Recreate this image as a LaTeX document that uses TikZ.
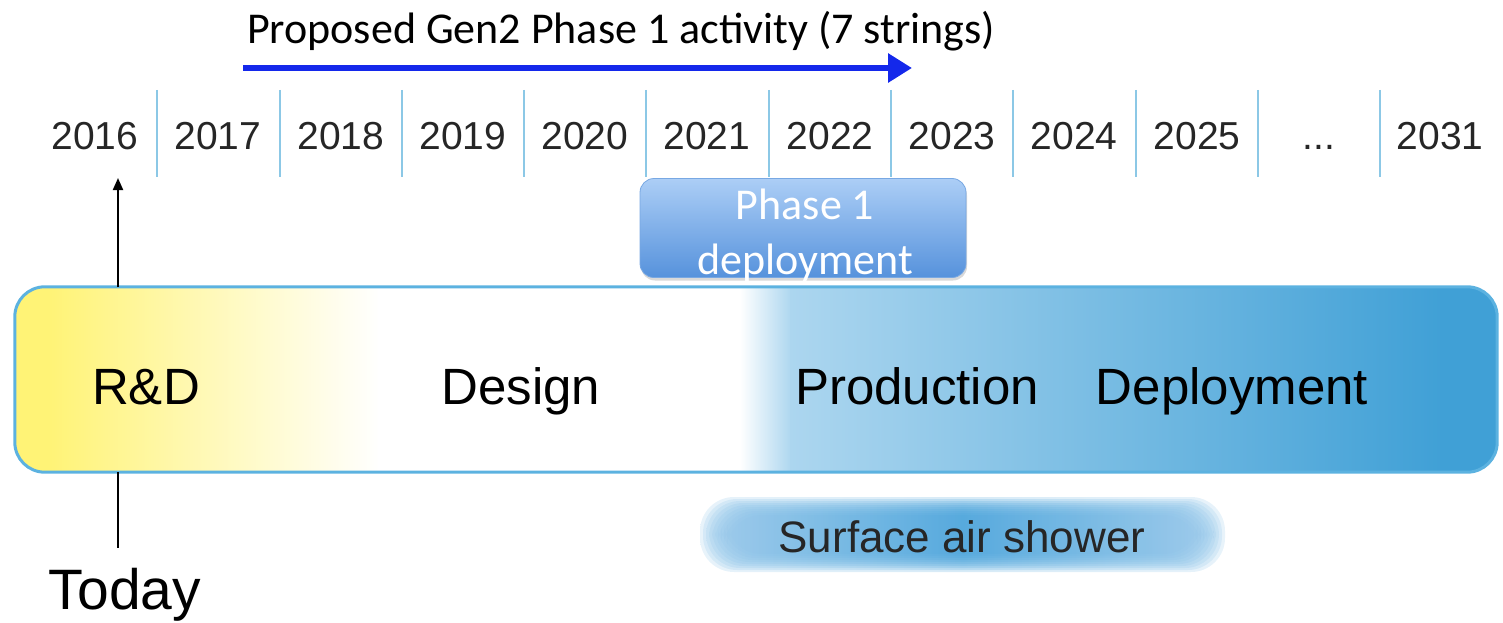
\documentclass[tikz,border=0pt]{standalone}
\usepackage{fontspec}
\newfontfamily\helv{Liberation Sans}
\newfontfamily\calib{Carlito}
\usetikzlibrary{arrows.meta,shadows,calc}
\definecolor{ylw}{RGB}{255,243,118}
\definecolor{lbA}{RGB}{172,214,239}
\definecolor{lbB}{RGB}{64,160,214}
\definecolor{barline}{RGB}{92,178,224}
\definecolor{sepline}{RGB}{140,200,230}
\definecolor{phTop}{RGB}{172,206,246}
\definecolor{phBot}{RGB}{86,146,220}
\definecolor{sasM}{RGB}{72,162,218}
\definecolor{sasL}{RGB}{150,200,234}
\definecolor{arrblue}{RGB}{20,40,235}
\tikzset{
  year/.style={font=\helv\fontsize{39}{46}\selectfont, text=black!85, inner sep=0pt, anchor=base},
  sep/.style={draw=sepline, line width=1.6pt},
  phase/.style={text=black, font=\helv\fontsize{51}{60}\selectfont, inner sep=0pt, anchor=base},
  phasebox/.style={rounded corners=14pt, top color=phTop, bottom color=phBot,
    draw=phBot!80!white, line width=0.8pt, minimum width=326pt, minimum height=99pt,
    inner sep=0pt, drop shadow={shadow xshift=1pt, shadow yshift=-3pt, opacity=0.3}},
  phasetext/.style={text=white, align=center, font=\calib\fontsize{44}{55}\selectfont, inner sep=0pt},
  topline/.style={font=\calib\fontsize{44}{50}\selectfont, inner sep=0pt},
  bluearrow/.style={draw=arrblue, line width=6pt, -{Triangle[length=24pt,width=28pt]}},
  blackarrow/.style={draw=black, line width=2pt}
}
\begin{document}
\begin{tikzpicture}[x=1pt,y=-1pt]
\useasboundingbox (0,0) rectangle (1503,623);

% top label and arrow
\node[topline] (prop) at (621,31) {Proposed Gen2 Phase 1 activity (7 strings)};
\coordinate (bs) at (243,68);
\coordinate (be) at (912,68);
\draw[bluearrow] (bs) -- (be);

% year separators
\foreach \x [count=\i] in {157,280,402,524,646,769,891,1013,1136,1258,1380} {
  \coordinate (st\i) at (\x,90);
  \coordinate (sb\i) at (\x,177);
  \draw[sep] (st\i) -- (sb\i);
}
% years
\foreach \x/\t in {95/2016,218/2017,341/2018,463/2019,585/2020,707/2021,830/2022,952/2023,1074/2024,1197/2025,1319/{...},1440/2031} {
  \node[year] (y\x) at (\x,149) {\t};
}

% main bar
\node[minimum width=1482pt, minimum height=185pt, inner sep=0pt] (bar) at (756,379.5) {};
\begin{scope}
  \clip[rounded corners=30pt] (bar.north west) rectangle (bar.south east);
  \fill[ylw] (15,287) rectangle (50,472);
  \shade[left color=ylw, right color=white] (48,287) rectangle (380,472);
  \fill[white] (378,287) rectangle (742,472);
  \shade[left color=white, right color=lbA] (740,287) rectangle (792,472);
  \shade[left color=lbA, right color=lbB] (790,287) rectangle (1442,472);
  \fill[lbB] (1440,287) rectangle (1497,472);
\end{scope}
\draw[barline, line width=3pt, rounded corners=30pt] (bar.north west) rectangle (bar.south east);

\node[phase] (rd) at (146,404) {R\&D};
\node[phase] (design) at (521,404) {Design};
\node[phase] (prod) at (917,404) {Production};
\node[phase] (depl) at (1232,404) {Deployment};

% phase 1 deployment box
\node[phasebox] (ph1) at (803,228) {};
\node[phasetext] (ph1t) at (805,235) {Phase 1\\deployment};

% surface air shower blob
\foreach \i in {0,...,9} {
  \shade[rounded corners=34pt, left color=sasL, right color=sasL, middle color=sasM, opacity=0.22]
    ({700+\i*3},{497+\i*2}) rectangle ({1225-\i*3},{572-\i*2});
}
\node[font=\helv\fontsize{44}{50}\selectfont, text=black!85, inner sep=0pt, anchor=base] (sas) at (962,552) {Surface air shower};

% today
\node[font=\helv\fontsize{57}{60}\selectfont, inner sep=0pt, anchor=base] (today) at (125,609) {Today};
\coordinate (tTop) at (118,287);
\coordinate (tUp) at (118,178);
\coordinate (tBot) at (118,472);
\coordinate (tLow) at (118,548);
\draw[blackarrow, -{Triangle[length=12pt,width=10pt]}] (tTop) -- (tUp);
\draw[blackarrow] (tBot) -- (tLow);
\end{tikzpicture}
\end{document}
